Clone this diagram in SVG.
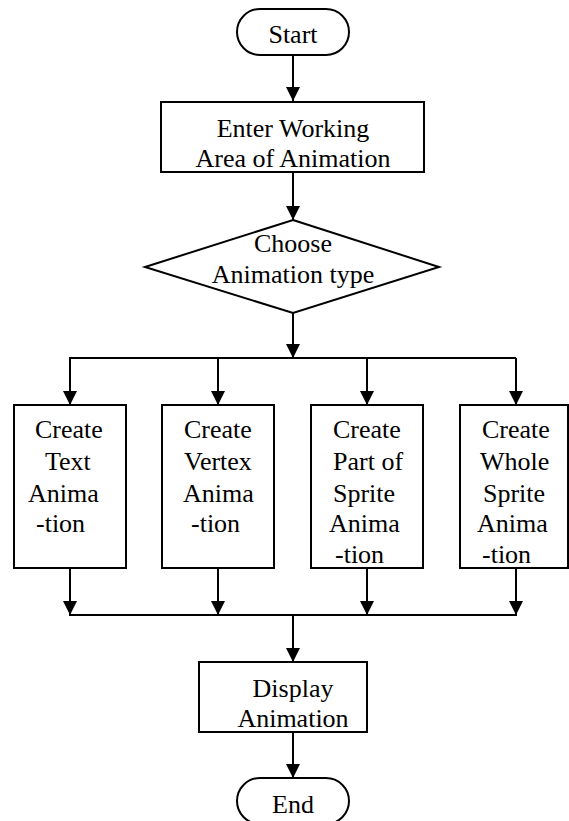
<svg xmlns="http://www.w3.org/2000/svg" width="569" height="821" viewBox="0 0 569 821">
<style>
.s{fill:#fff;stroke:#000;stroke-width:2}
.c{text-anchor:middle}
.l{fill:none;stroke:#000;stroke-width:2}
</style>
<defs>
<marker id="a" markerWidth="14" markerHeight="14" refX="14" refY="7" orient="auto" markerUnits="userSpaceOnUse"><path d="M0,0 L14,7 L0,14 Z" fill="#000"/></marker>
</defs>
<rect width="569" height="821" fill="#fff"/>
<g id="connectors">
<line class="l" x1="293" y1="55" x2="293" y2="101" marker-end="url(#a)"/>
<line class="l" x1="293" y1="172" x2="293" y2="220" marker-end="url(#a)"/>
<line class="l" x1="293" y1="313" x2="293" y2="358" marker-end="url(#a)"/>
<polyline class="l" points="70,405 70,358 516,358"/>
<line class="l" x1="70" y1="358" x2="70" y2="405" marker-end="url(#a)"/>
<line class="l" x1="218" y1="358" x2="218" y2="405" marker-end="url(#a)"/>
<line class="l" x1="367" y1="358" x2="367" y2="405" marker-end="url(#a)"/>
<line class="l" x1="516" y1="358" x2="516" y2="405" marker-end="url(#a)"/>
<line class="l" x1="70" y1="568" x2="70" y2="615" marker-end="url(#a)"/>
<line class="l" x1="218" y1="568" x2="218" y2="615" marker-end="url(#a)"/>
<line class="l" x1="367" y1="568" x2="367" y2="615" marker-end="url(#a)"/>
<line class="l" x1="516" y1="568" x2="516" y2="615" marker-end="url(#a)"/>
<line class="l" x1="69" y1="615" x2="517" y2="615"/>
<line class="l" x1="293" y1="615" x2="293" y2="662" marker-end="url(#a)"/>
<line class="l" x1="293" y1="732" x2="293" y2="778" marker-end="url(#a)"/>
</g>
<g font-family="Liberation Serif, Times New Roman, DejaVu Serif, serif" font-size="26" fill="#000">
<g id="start">
<rect class="s" x="237" y="9" width="112" height="46" rx="23"/>
<text class="c" x="293" y="43">Start</text>
</g>
<g id="enter">
<rect class="s" x="161" y="102" width="263" height="70"/>
<text class="c" x="293" y="137">Enter Working</text>
<text class="c" x="293" y="167">Area of Animation</text>
</g>
<g id="choose">
<polygon class="s" points="293,220 439,267 293,313 145,267"/>
<text class="c" x="293" y="252">Choose</text>
<text class="c" x="293" y="283">Animation type</text>
</g>
<g id="text-anim">
<rect class="s" x="14" y="405" width="112" height="163"/>
<text x="35" y="438">Create</text>
<text x="45" y="470">Text</text>
<text x="28" y="502">Anima</text>
<text x="36" y="532">-tion</text>
</g>
<g id="vertex-anim">
<rect class="s" x="162" y="405" width="112" height="163"/>
<text x="184" y="438">Create</text>
<text x="184" y="470">Vertex</text>
<text x="183" y="502">Anima</text>
<text x="191" y="532">-tion</text>
</g>
<g id="part-anim">
<rect class="s" x="311" y="405" width="112" height="163"/>
<text x="333" y="438">Create</text>
<text x="333" y="470">Part of</text>
<text x="333" y="502">Sprite</text>
<text x="329" y="532">Anima</text>
<text x="335" y="563">-tion</text>
</g>
<g id="whole-anim">
<rect class="s" x="460" y="405" width="108" height="163"/>
<text x="482" y="438">Create</text>
<text x="480" y="470">Whole</text>
<text x="483" y="502">Sprite</text>
<text x="477" y="532">Anima</text>
<text x="482" y="563">-tion</text>
</g>
<g id="display">
<rect class="s" x="199" y="662" width="168" height="70"/>
<text class="c" x="293" y="697">Display</text>
<text class="c" x="293" y="727">Animation</text>
</g>
<g id="end">
<rect class="s" x="237" y="778" width="112" height="46" rx="23"/>
<text class="c" x="293" y="813">End</text>
</g>
</g>
</svg>
